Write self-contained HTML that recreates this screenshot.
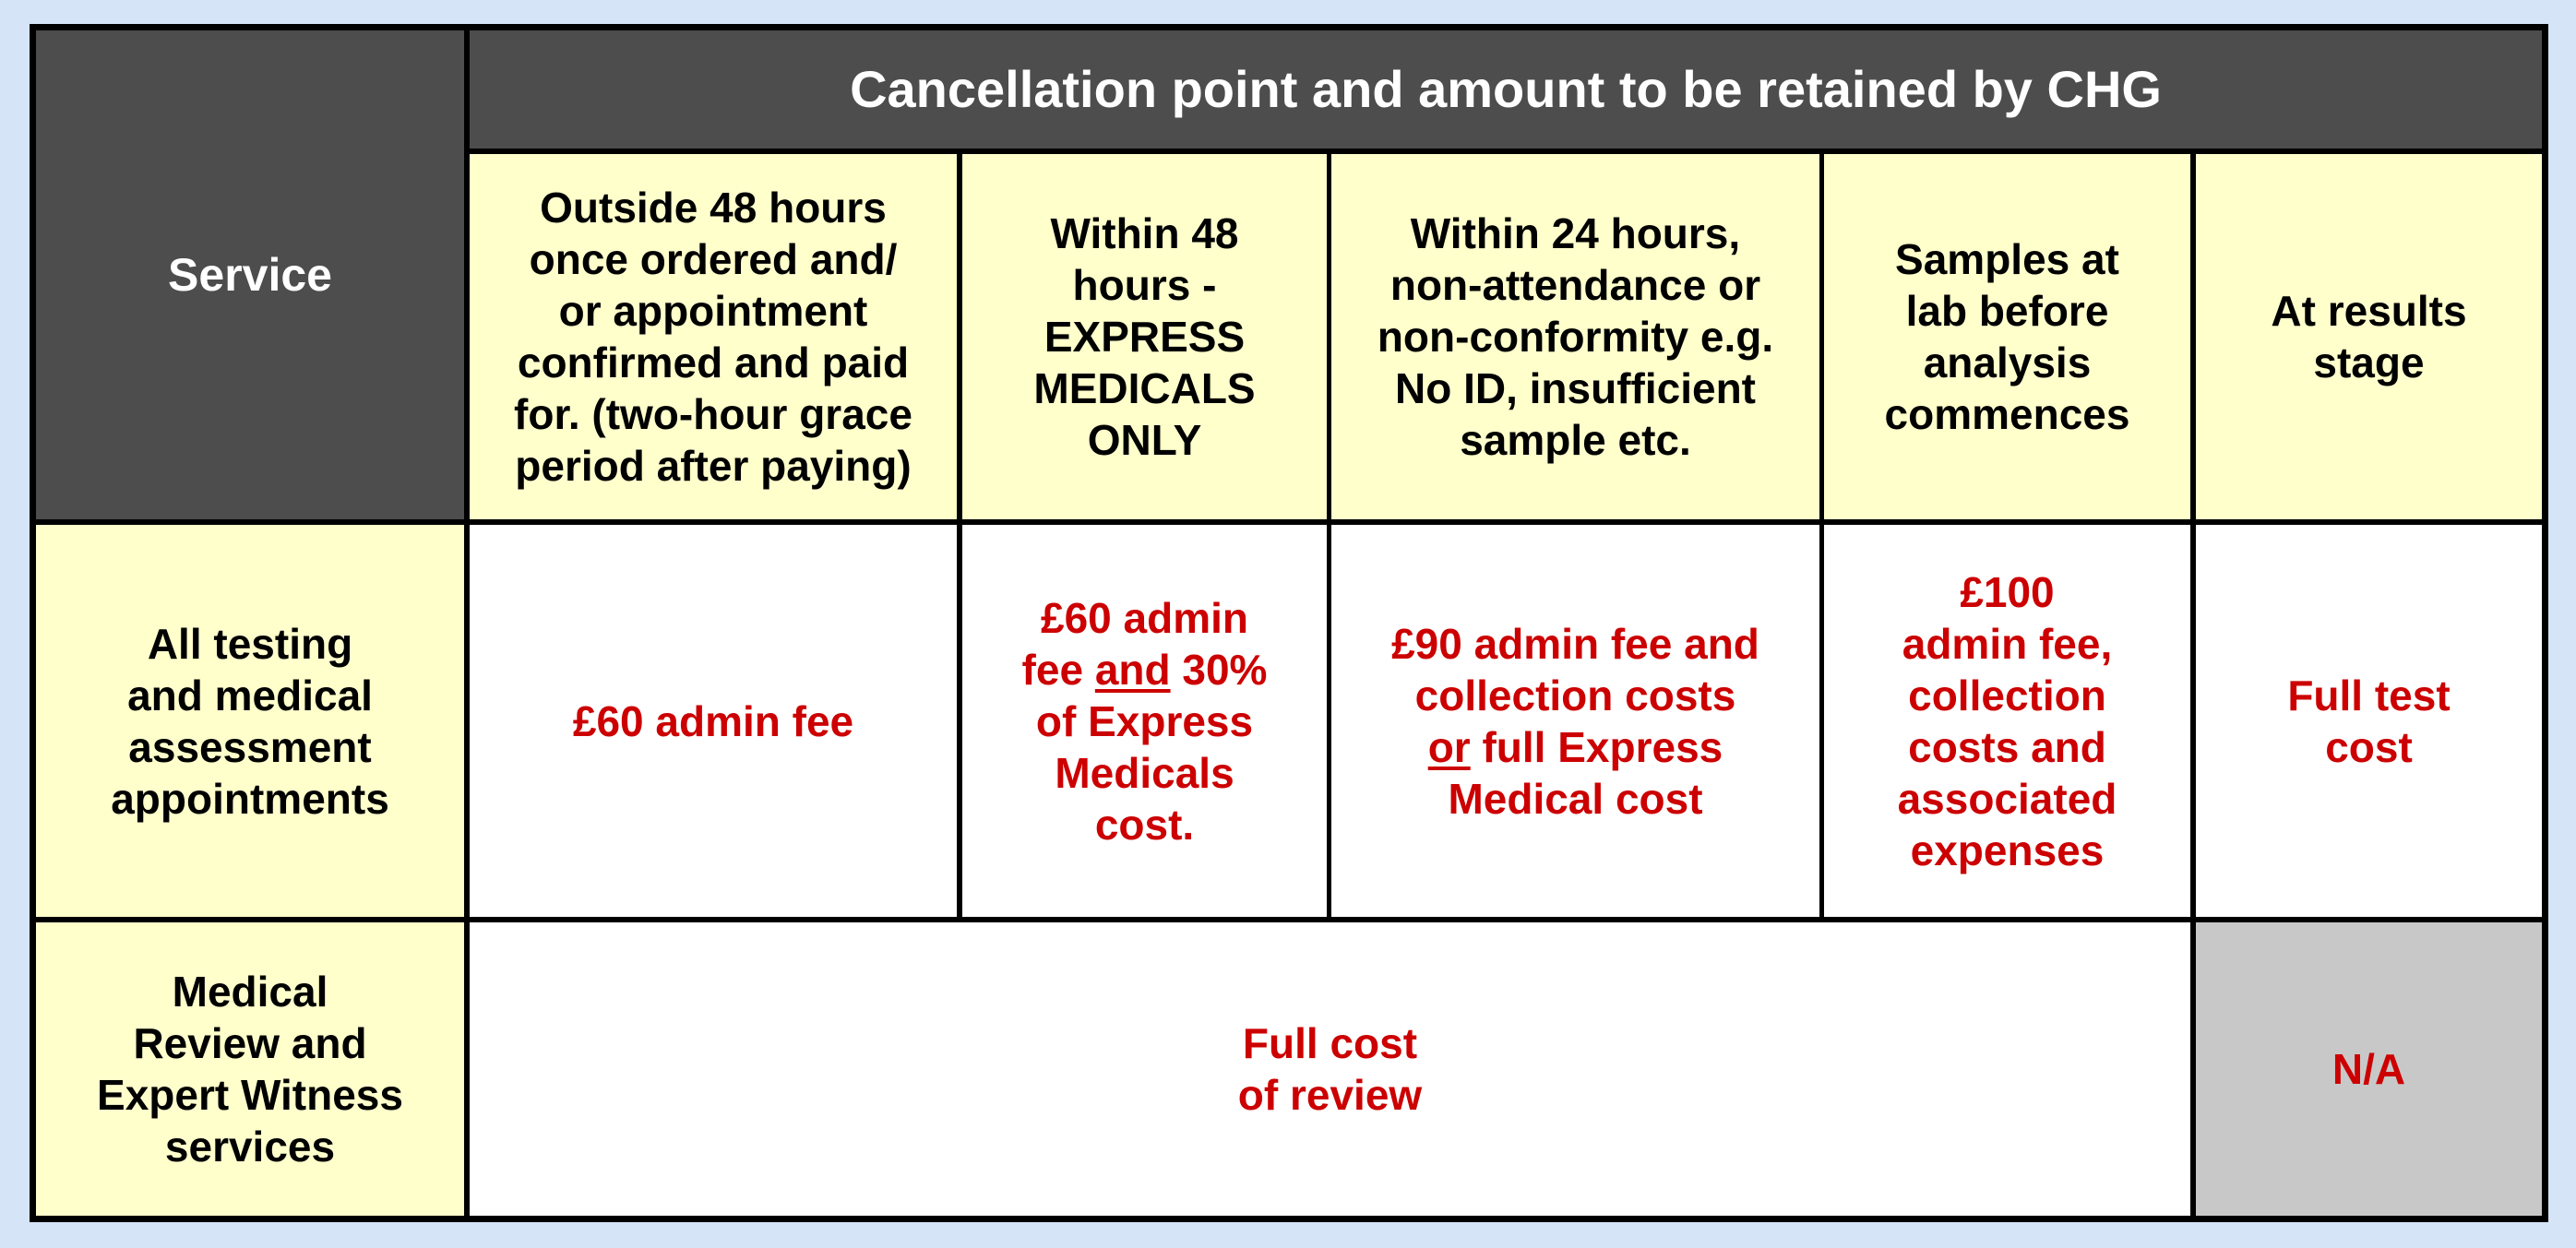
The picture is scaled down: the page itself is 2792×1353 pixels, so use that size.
<!DOCTYPE html>
<html><head><meta charset="utf-8"><style>
html,body{margin:0;padding:0;}
body{width:2792px;height:1353px;background:#d6e4f7;position:relative;overflow:hidden;font-family:"Liberation Sans",Arial,sans-serif;font-weight:bold;}
.frame{position:absolute;left:32px;top:26px;width:2730px;height:1299px;background:#000;}
.c{position:absolute;display:flex;align-items:center;justify-content:center;text-align:center;white-space:nowrap;font-size:46px;line-height:56px;color:#000;}
.c>div{display:block;}
.d{background:#4d4d4d;color:#fff;font-size:50px;}
.y{background:#ffffcc;}
.w{background:#fff;color:#cc0000;}
.g{background:#c8c8c8;color:#cc0000;}
u{text-decoration-thickness:4px;text-underline-offset:5px;}
</style></head><body>
<div class="frame"></div>
<div class="c d" style="left:39px;top:33px;width:464px;height:530px;"><div>Service</div></div>
<div class="c d" style="left:509px;top:33px;width:2246px;height:128px;font-size:56px;"><div>Cancellation point and amount to be retained by CHG</div></div>

<div class="c y" style="left:509px;top:167px;width:528px;height:396px;"><div>Outside 48 hours<br>once ordered and/<br>or appointment<br>confirmed and paid<br>for. (two-hour grace<br>period after paying)</div></div>
<div class="c y" style="left:1043px;top:167px;width:395px;height:396px;"><div>Within 48<br>hours -<br>EXPRESS<br>MEDICALS<br>ONLY</div></div>
<div class="c y" style="left:1443px;top:167px;width:529px;height:396px;"><div>Within 24 hours,<br>non-attendance or<br>non-conformity e.g.<br>No ID, insufficient<br>sample etc.</div></div>
<div class="c y" style="left:1977px;top:167px;width:397px;height:396px;"><div>Samples at<br>lab before<br>analysis<br>commences</div></div>
<div class="c y" style="left:2380px;top:167px;width:375px;height:396px;"><div>At results<br>stage</div></div>

<div class="c y" style="left:39px;top:569px;width:464px;height:425px;"><div>All testing<br>and medical<br>assessment<br>appointments</div></div>
<div class="c w" style="left:509px;top:569px;width:528px;height:425px;"><div>£60 admin fee</div></div>
<div class="c w" style="left:1043px;top:569px;width:395px;height:425px;"><div>£60 admin<br>fee <u>and</u> 30%<br>of Express<br>Medicals<br>cost.</div></div>
<div class="c w" style="left:1443px;top:569px;width:529px;height:425px;"><div>£90 admin fee and<br>collection costs<br><u>or</u> full Express<br>Medical cost</div></div>
<div class="c w" style="left:1977px;top:569px;width:397px;height:425px;"><div>£100<br>admin fee,<br>collection<br>costs and<br>associated<br>expenses</div></div>
<div class="c w" style="left:2380px;top:569px;width:375px;height:425px;"><div>Full test<br>cost</div></div>

<div class="c y" style="left:39px;top:1000px;width:464px;height:318px;"><div>Medical<br>Review and<br>Expert Witness<br>services</div></div>
<div class="c w" style="left:509px;top:1000px;width:1865px;height:318px;"><div>Full cost<br>of review</div></div>
<div class="c g" style="left:2380px;top:1000px;width:375px;height:318px;"><div>N/A</div></div>
</body></html>
